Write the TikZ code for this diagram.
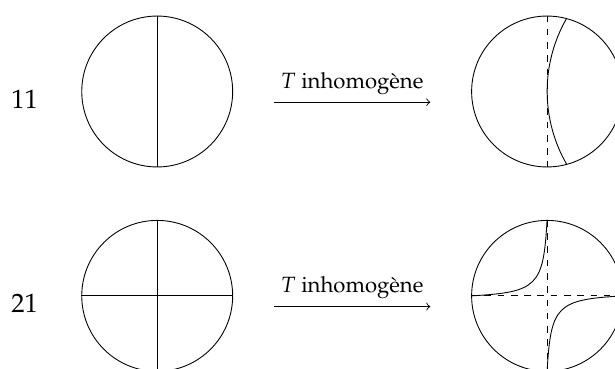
\documentclass[tikz,border=0pt]{standalone}
\usepackage[T1]{fontenc}
\usepackage{mathpazo}
\usetikzlibrary{calc}
\tikzset{
	ring/.style={draw, circle, minimum size=2.4cm, inner sep=0pt},
	tarr/.style={->, shorten <=0.65cm, shorten >=0.65cm},
	guide/.style={dashed},
	mode/.style={font=\large}
}

\begin{document}
\begin{tikzpicture}[x=1cm, y=1cm]
	\useasboundingbox (-2.5,1.455) rectangle (7.28,-4.4);
	\node[ring] (a) at (0,0) {};
	\node[ring] (b) at (6.2,0) {};
	\node[ring] (c) at (0,-3.25) {};
	\node[ring] (d) at (6.2,-3.25) {};
	\node[mode] (n1) at (-2.11,-0.12) {11};
	\node[mode] (n2) at (-2.11,-3.37) {21};
	% mode 11
	\draw (a.north) -- (a.south);
	\draw[tarr] ([yshift=-0.17cm]a.east) -- node[above] {$T$ inhomog\`ene} ([yshift=-0.17cm]b.west);
	\draw[guide] (b.north) -- (b.south);
	\draw (b.75) arc[start angle=150, end angle=210, radius=2.325];
	% mode 21
	\draw (c.north) -- (c.south);
	\draw (c.west) -- (c.east);
	\draw[tarr] ([yshift=-0.17cm]c.east) -- node[above] {$T$ inhomog\`ene} ([yshift=-0.17cm]d.west);
	\draw[guide] (d.north) -- (d.south);
	\draw[guide] (d.west) -- (d.east);
	\draw (d.north) .. controls ($(d)+(-0.06,0.15)$) and ($(d)+(-0.15,0.06)$) .. (d.west);
	\draw (d.south) .. controls ($(d)+(0.06,-0.15)$) and ($(d)+(0.15,-0.06)$) .. (d.east);
\end{tikzpicture}
\end{document}
